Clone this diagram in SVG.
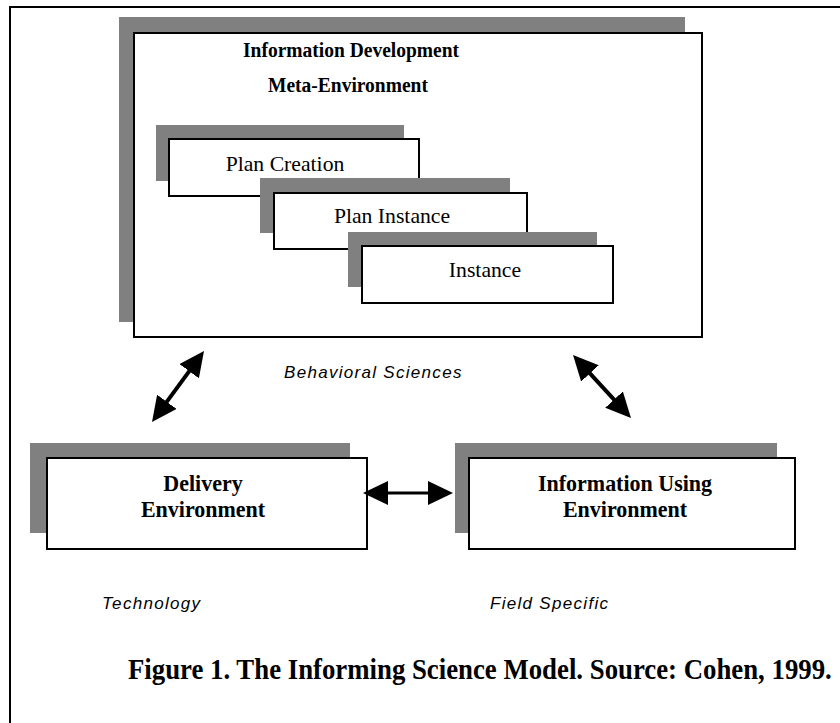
<svg xmlns="http://www.w3.org/2000/svg" width="840" height="723" viewBox="0 0 840 723">
  <style>
    .shadow { fill: #808080; }
    .box { fill: #ffffff; stroke: #000000; stroke-width: 2; }
    .title { font-family: "Liberation Serif", "Times New Roman", serif; font-weight: bold; fill: #000; text-anchor: middle; }
    .label { font-family: "Liberation Serif", "Times New Roman", serif; font-size: 21.7px; fill: #000; text-anchor: middle; }
    .note { font-family: "Liberation Sans", Arial, sans-serif; font-style: italic; font-size: 17px; letter-spacing: 1.3px; fill: #000; }
    .link { stroke: #000; fill: none; }
  </style>
  <defs>
    <marker id="head" markerUnits="userSpaceOnUse" markerWidth="25" markerHeight="24" refX="15" refY="12" orient="auto-start-reverse">
      <path d="M0,0 L25,12 L0,24 Z" fill="#000"/>
    </marker>
  </defs>

  <rect width="840" height="723" fill="#ffffff"/>

  <!-- page frame (top and left rules) -->
  <path d="M10,723 V7 H840" fill="none" stroke="#000" stroke-width="2"/>

  <!-- Information Development Meta-Environment -->
  <g id="meta-environment">
    <rect class="shadow" x="119" y="17" width="566" height="305"/>
    <rect class="box" x="134" y="33" width="568" height="304"/>
    <text class="title" font-size="19.5" transform="translate(351 57) scale(1 1.08)">Information Development</text>
    <text class="title" font-size="19.5" transform="translate(348 92) scale(1 1.08)">Meta-Environment</text>
  </g>

  <g id="plan-creation">
    <rect class="shadow" x="156" y="125" width="248" height="56"/>
    <rect class="box" x="169" y="139" width="250" height="57"/>
    <text class="label" x="285" y="171">Plan Creation</text>
  </g>

  <g id="plan-instance">
    <rect class="shadow" x="260" y="178" width="250" height="55"/>
    <rect class="box" x="274" y="193" width="253" height="56"/>
    <text class="label" x="392" y="223">Plan Instance</text>
  </g>

  <g id="instance">
    <rect class="shadow" x="348" y="232" width="249" height="55"/>
    <rect class="box" x="362" y="246" width="251" height="57"/>
    <text class="label" x="485" y="277">Instance</text>
  </g>

  <g id="delivery-environment">
    <rect class="shadow" x="30" y="443" width="320" height="90"/>
    <rect class="box" x="47" y="458" width="320" height="91"/>
    <text class="title" font-size="22" transform="translate(203 491) scale(1 1.08)">Delivery</text>
    <text class="title" font-size="22" transform="translate(203 517) scale(1 1.08)">Environment</text>
  </g>

  <g id="information-using-environment">
    <rect class="shadow" x="455" y="443" width="322" height="90"/>
    <rect class="box" x="469" y="458" width="326" height="91"/>
    <text class="title" font-size="22" transform="translate(625 491) scale(1 1.08)">Information Using</text>
    <text class="title" font-size="22" transform="translate(625 517) scale(1 1.08)">Environment</text>
  </g>

  <!-- connectors -->
  <g id="connectors">
    <line class="link" stroke-width="4" x1="157.9" y1="413.9" x2="198.1" y2="359.1" marker-start="url(#head)" marker-end="url(#head)"/>
    <line class="link" stroke-width="4" x1="579.8" y1="362.4" x2="624.2" y2="410.6" marker-start="url(#head)" marker-end="url(#head)"/>
    <line class="link" stroke-width="3" x1="373" y1="493" x2="443" y2="493" marker-start="url(#head)" marker-end="url(#head)"/>
  </g>

  <!-- domain labels -->
  <text class="note" x="284" y="378">Behavioral Sciences</text>
  <text class="note" x="102" y="609">Technology</text>
  <text class="note" x="490" y="609">Field Specific</text>

  <!-- caption -->
  <text class="title" font-size="26.8" style="text-anchor:start" transform="translate(128 679) scale(1 1.08)">Figure 1. The Informing Science Model. Source: Cohen, 1999.</text>
</svg>
